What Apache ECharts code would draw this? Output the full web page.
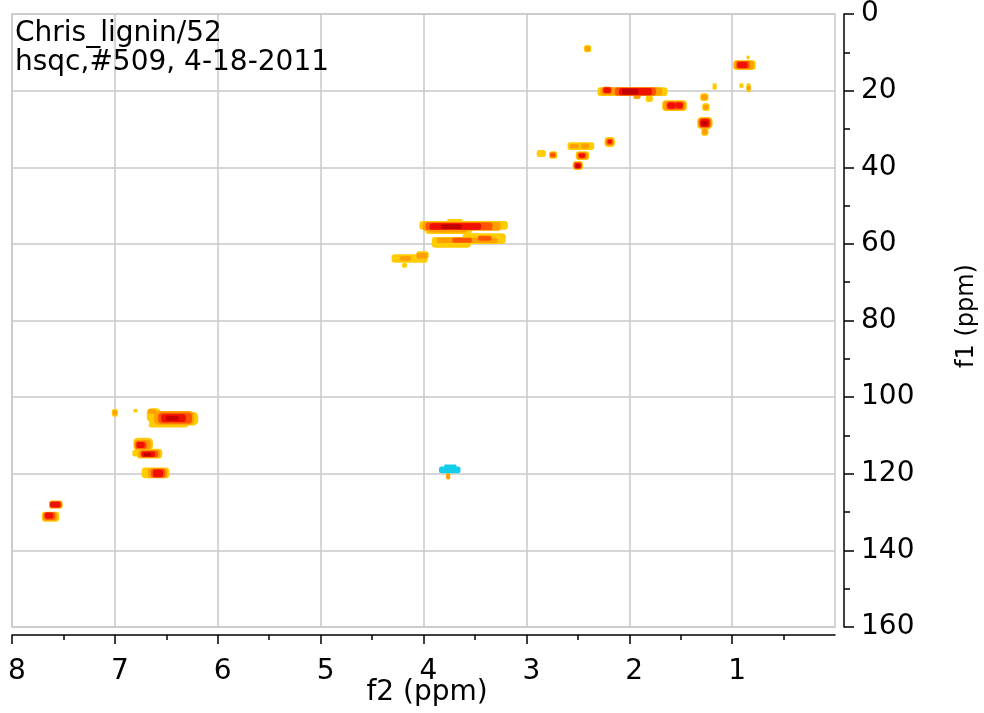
<!DOCTYPE html>
<html>
<head>
<meta charset="utf-8">
<title>Chris_lignin/52 HSQC</title>
<script src="https://cdn.jsdelivr.net/npm/echarts@6/dist/echarts.min.js"></script>
<style>
  html, body { margin: 0; padding: 0; background: #ffffff; }
  #chart { width: 984px; height: 713px; }
</style>
</head>
<body>
<div id="chart"></div>
<script>
// ---- Axes (ppm) ----
const f2Range = [0, 8];
const f1Range = [0, 160];
const f2TickValues = [8, 7, 6, 5, 4, 3, 2, 1];
const titleLines = ['Chris_lignin/52', 'hsqc,#509, 4-18-2011'];

// ---- Cross-peak contour blocks: [f2 from, f2 to, f1 from, f1 to] (ppm) ----
// lowest contour level
const level1Blocks = [
  [4.04, 3.18, 54.0, 56.3], [3.98, 3.53, 55.8, 57.4], [3.77, 3.62, 53.5, 54.6],
  [3.92, 3.54, 58.2, 61.0], [3.62, 3.20, 57.2, 60.0],
  [4.31, 3.96, 62.7, 64.9], [4.07, 3.95, 61.9, 63.9], [4.21, 4.16, 65.0, 66.2],
  [2.44, 2.37, 8.1, 10.0],
  [0.99, 0.77, 12.1, 14.6], [0.86, 0.83, 10.8, 11.8],
  [2.31, 1.63, 19.1, 21.4], [1.84, 1.77, 21.3, 23.0],
  [1.68, 1.44, 22.5, 25.3],
  [1.19, 1.15, 18.1, 19.8],
  [0.93, 0.89, 18.1, 19.3], [0.86, 0.82, 18.1, 20.4],
  [1.31, 1.23, 20.7, 22.7],
  [1.29, 1.22, 23.3, 25.3],
  [1.34, 1.19, 26.9, 30.0], [1.30, 1.23, 29.8, 31.8],
  [2.60, 2.34, 33.5, 35.5],
  [2.24, 2.14, 32.1, 34.7],
  [2.90, 2.81, 35.5, 37.3],
  [2.78, 2.70, 35.8, 37.8],
  [2.52, 2.39, 35.8, 38.1],
  [2.55, 2.45, 38.4, 40.7],
  [7.03, 6.97, 103.1, 105.1],
  [6.82, 6.78, 103.1, 104.0],
  [6.69, 6.55, 102.9, 106.6], [6.64, 6.19, 103.9, 107.4], [6.67, 6.29, 106.4, 107.9],
  [6.82, 6.63, 110.6, 114.0], [6.83, 6.78, 113.8, 115.5],
  [6.79, 6.54, 113.5, 116.0],
  [6.74, 6.47, 118.4, 121.2],
  [7.64, 7.51, 127.0, 129.1],
  [7.71, 7.54, 129.9, 132.5]
];
const level2Blocks = [
  [4.01, 3.25, 54.3, 56.6], [3.95, 3.58, 56.2, 57.0],
  [3.87, 3.28, 58.4, 59.8],
  [4.07, 3.96, 62.4, 63.9], [4.23, 4.12, 63.2, 64.4],
  [2.43, 2.38, 8.4, 9.7],
  [0.98, 0.79, 12.2, 14.4],
  [2.28, 1.68, 19.2, 21.2], [1.96, 1.89, 20.7, 22.2],
  [1.67, 1.45, 22.7, 25.1],
  [0.86, 0.82, 18.7, 19.9],
  [1.30, 1.24, 21.1, 22.4],
  [1.28, 1.23, 23.7, 24.9],
  [1.33, 1.20, 27.1, 29.8], [1.29, 1.24, 29.9, 31.5],
  [2.58, 2.49, 33.9, 35.1], [2.47, 2.39, 33.8, 35.1],
  [2.23, 2.15, 32.4, 34.4],
  [2.77, 2.71, 36.0, 37.6],
  [2.51, 2.40, 36.0, 37.9],
  [2.54, 2.46, 38.6, 40.5],
  [3.78, 3.74, 119.8, 121.5],
  [7.02, 6.98, 103.5, 104.7],
  [6.62, 6.23, 103.6, 107.2], [6.68, 6.60, 103.1, 104.4],
  [6.81, 6.65, 111.1, 113.7],
  [6.77, 6.56, 113.8, 115.8],
  [6.68, 6.49, 118.6, 121.1],
  [7.64, 7.51, 127.1, 129.0],
  [7.70, 7.56, 130.0, 132.3]
];
const level3Blocks = [
  [3.98, 3.33, 54.4, 56.4],
  [3.72, 3.53, 58.4, 59.7], [3.47, 3.34, 57.9, 59.2],
  [2.26, 2.17, 19.0, 20.8], [2.14, 1.74, 19.2, 21.3],
  [0.96, 0.83, 12.3, 14.3],
  [1.64, 1.47, 22.9, 24.9],
  [1.32, 1.21, 27.2, 29.6],
  [2.22, 2.16, 32.6, 34.1],
  [2.77, 2.72, 36.2, 37.3],
  [2.50, 2.42, 36.2, 37.7],
  [2.54, 2.46, 38.7, 40.4],
  [6.58, 6.25, 104.1, 106.9],
  [6.80, 6.69, 111.5, 113.5],
  [6.75, 6.58, 114.0, 115.7],
  [6.65, 6.51, 118.7, 121.0],
  [7.63, 7.52, 127.2, 128.9],
  [7.69, 7.58, 130.0, 132.0]
];
const level4Blocks = [
  [3.94, 3.44, 54.6, 56.3],
  [2.25, 2.18, 19.2, 20.6], [2.10, 1.78, 19.3, 21.2],
  [0.95, 0.85, 12.5, 14.1],
  [1.63, 1.55, 23.1, 24.7], [1.55, 1.48, 23.1, 24.6],
  [1.31, 1.22, 27.4, 29.5],
  [2.21, 2.17, 32.8, 33.8],
  [2.49, 2.43, 36.4, 37.5],
  [2.53, 2.47, 38.9, 40.3],
  [6.55, 6.31, 104.5, 106.5],
  [6.79, 6.71, 111.7, 113.3],
  [6.74, 6.61, 114.2, 115.6],
  [6.63, 6.53, 118.9, 120.9],
  [7.63, 7.53, 127.3, 128.8],
  [7.68, 7.60, 130.2, 131.7]
];
// highest contour level
const level5Blocks = [
  [3.83, 3.63, 54.9, 56.1],
  [2.07, 1.91, 19.5, 21.0],
  [1.30, 1.24, 27.9, 29.1],
  [2.52, 2.48, 39.2, 40.1],
  [6.50, 6.38, 104.9, 106.1],
  [6.72, 6.65, 114.5, 115.4]
];
// negative phase contours
const negativeBlocks = [
  [3.85, 3.64, 118.1, 119.9],
  [3.80, 3.68, 117.6, 118.5]
];

const FONT = 'DejaVu Sans, Verdana, sans-serif';

// one rounded block per contour patch, placed through the axis scales
function blockItem(params, api) {
  const a = api.coord([api.value(0), api.value(2)]);
  const b = api.coord([api.value(1), api.value(3)]);
  const w = Math.abs(b[0] - a[0]);
  const h = Math.abs(b[1] - a[1]);
  return {
    type: 'rect',
    shape: {
      x: Math.min(a[0], b[0]),
      y: Math.min(a[1], b[1]),
      width: w,
      height: h,
      r: Math.min(w, h) * 0.35
    },
    style: { fill: api.visual('color') }
  };
}

function contourSeries(blocks, color, z) {
  return {
    type: 'custom',
    renderItem: blockItem,
    data: blocks,
    encode: { x: [0, 1], y: [2, 3] },
    itemStyle: { color: color },
    z: z,
    silent: true
  };
}

const chart = echarts.init(document.getElementById('chart'), null, { renderer: 'canvas' });

chart.setOption({
  animation: false,
  backgroundColor: '#ffffff',
  grid: {
    left: 12, right: 149, top: 13, bottom: 86,
    show: true, borderColor: '#c8c8c8', borderWidth: 1.5
  },
  xAxis: {
    type: 'value',
    min: f2Range[0], max: f2Range[1], interval: 1,
    inverse: true,
    position: 'bottom',
    offset: 8,
    axisLine: { show: true, onZero: false, lineStyle: { color: '#000', width: 1.5 } },
    axisTick: { show: true, length: 9, customValues: f2TickValues, lineStyle: { color: '#000', width: 1.5 } },
    minorTick: { show: true, splitNumber: 2, length: 5, lineStyle: { color: '#000', width: 1.5 } },
    axisLabel: {
      customValues: f2TickValues,
      margin: 23, fontSize: 28, fontFamily: FONT, color: '#000',
      padding: [0, 0, 0, 10]
    },
    splitLine: { show: true, lineStyle: { color: '#c8c8c8', width: 1.5 } }
  },
  yAxis: {
    type: 'value',
    min: f1Range[0], max: f1Range[1], interval: 20,
    inverse: true,
    position: 'right',
    offset: 9,
    axisLine: { show: true, onZero: false, lineStyle: { color: '#000', width: 1.5 } },
    axisTick: { show: true, length: 10, lineStyle: { color: '#000', width: 1.5 } },
    minorTick: { show: true, splitNumber: 2, length: 6, lineStyle: { color: '#000', width: 1.5 } },
    axisLabel: {
      margin: 17, fontSize: 28, fontFamily: FONT, color: '#000',
      padding: [6, 0, 0, 0]
    },
    splitLine: { show: true, lineStyle: { color: '#c8c8c8', width: 1.5 } }
  },
  graphic: [
    { type: 'text', x: 15, y: 34, z: 100,
      style: { text: titleLines[0], font: '28px ' + FONT, fill: '#000', align: 'left', verticalAlign: 'middle' } },
    { type: 'text', x: 15, y: 63, z: 100,
      style: { text: titleLines[1], font: '28px ' + FONT, fill: '#000', align: 'left', verticalAlign: 'middle' } },
    { type: 'text', x: 427, y: 693, z: 100,
      style: { text: 'f2 (ppm)', font: '28px ' + FONT, fill: '#000', align: 'center', verticalAlign: 'middle' } },
    { type: 'text', x: 967, y: 316, rotation: Math.PI / 2, z: 100,
      style: { text: 'f1 (ppm)', font: '24px ' + FONT, fill: '#000', align: 'center', verticalAlign: 'middle' } }
  ],
  series: [
    contourSeries(level1Blocks, '#ffcc00', 2),
    contourSeries(level2Blocks, '#ff9f00', 3),
    contourSeries(level3Blocks, '#ff5500', 4),
    contourSeries(level4Blocks, '#ee1100', 5),
    contourSeries(level5Blocks, '#c40000', 6),
    contourSeries(negativeBlocks, '#14cdea', 7)
  ]
});
</script>
</body>
</html>
